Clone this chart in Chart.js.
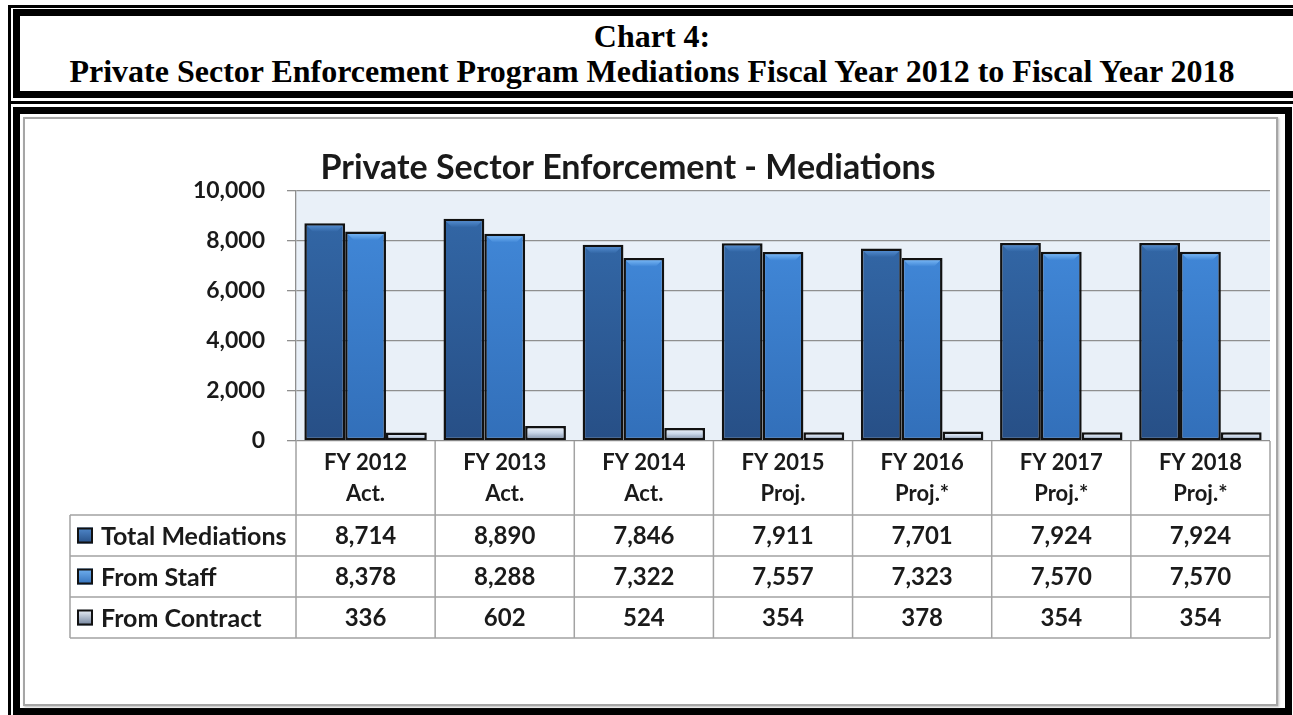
<!DOCTYPE html>
<html>
<head>
<meta charset="utf-8">
<script src="https://cdn.jsdelivr.net/npm/chart.js@4/dist/chart.umd.min.js"></script>
<style>
  body { margin: 0; width: 1293px; height: 715px; overflow: hidden; background: #fff; position: relative; }
  .outer { position: absolute; border: 3px solid #000; }
  .inner { position: absolute; border: 7px solid #000; }
  #head { left: 8px; top: 5px; width: 1290px; height: 93px; }
  #headIn { left: 13px; top: 9px; width: 1285px; height: 75px; }
  #body { left: 8px; top: 101px; width: 1290px; height: 620px; }
  #bodyIn { left: 13px; top: 107px; width: 1265px; height: 594px; }
  #headText { position: absolute; left: 19px; top: 19px; width: 1266px; text-align: center;
    font: bold 32px/35px "Liberation Serif", "Times New Roman", serif; color: #000; white-space: nowrap; }
  #frame { position: absolute; left: 23px; top: 117px; width: 1251px; height: 585px;
    border: 2px solid #a6a6a6; box-shadow: 1px 1px 2px #bbb; }
  #c { position: absolute; left: 0; top: 0; }
</style>
</head>
<body>
<div class="outer" id="head"></div>
<div class="inner" id="headIn"></div>
<div class="outer" id="body"></div>
<div class="inner" id="bodyIn"></div>
<div id="headText">Chart 4:<br>Private Sector Enforcement Program Mediations Fiscal Year 2012 to Fiscal Year 2018</div>
<div id="frame"></div>
<canvas id="c" width="1293" height="715"></canvas>
<script>
// data
const categories = [
    ["FY 2012", "Act."], ["FY 2013", "Act."], ["FY 2014", "Act."], ["FY 2015", "Proj."],
    ["FY 2016", "Proj.*"], ["FY 2017", "Proj.*"], ["FY 2018", "Proj.*"]
];
const seriesNames = ["Total Mediations", "From Staff", "From Contract"];
const totalMediations = [8714, 8890, 7846, 7911, 7701, 7924, 7924];
const fromStaff = [8378, 8288, 7322, 7557, 7323, 7570, 7570];
const fromContract = [336, 602, 524, 354, 378, 354, 354];
const yTicks = [0, 2000, 4000, 6000, 8000, 10000];

const chartTitle = "Private Sector Enforcement - Mediations";
const FONT = "Lato, 'Open Sans', sans-serif";

// colours: [top, bottom, bevel highlight]
const palette = [
    ["#3266a5", "#274f86", "#5089cc"],
    ["#4086d6", "#326fb9", "#72b2f2"],
    ["#e4ecf7", "#6d7f9a", null]
];

const barFill = (idx) => (c) => {
    const chart = c.chart;
    const p = palette[idx];
    const y = chart.scales && chart.scales.y;
    if (!chart.chartArea || !y || c.raw == null) return p[0];
    const y0 = y.getPixelForValue(c.raw);
    const y1 = y.getPixelForValue(0);
    if (!isFinite(y0) || !isFinite(y1) || y0 === y1) return p[0];
    const g = chart.ctx.createLinearGradient(0, y0, 0, y1);
    if (idx === 2) {
        g.addColorStop(0, "#f4f8fd");
        g.addColorStop(0.45, "#c9d6e8");
        g.addColorStop(1, p[1]);
    } else {
        g.addColorStop(0, p[0]);
        g.addColorStop(1, p[1]);
    }
    return g;
};

const fmt = (v) => v.toLocaleString("en-US");

const plotBg = {
    id: "plotBg",
    beforeDraw(chart) {
        const a = chart.chartArea;
        const ctx = chart.ctx;
        ctx.save();
        ctx.fillStyle = "#e9f0f8";
        ctx.fillRect(a.left, a.top, a.right - a.left, a.bottom - a.top);
        ctx.restore();
    }
};

const titlePlugin = {
    id: "titlePlugin",
    afterDraw(chart) {
        const ctx = chart.ctx;
        ctx.save();
        ctx.font = "bold 34px " + FONT;
        ctx.fillStyle = "#1a1a1a";
        ctx.textAlign = "center";
        ctx.textBaseline = "alphabetic";
        ctx.fillText(chartTitle, 628, 179);
        ctx.restore();
    }
};

// light bevel at the top of the blue bars
const bevel = {
    id: "bevel",
    afterDatasetsDraw(chart) {
        const ctx = chart.ctx;
        ctx.save();
        chart.data.datasets.forEach((ds, i) => {
            const hl = palette[i][2];
            if (!hl) return;
            chart.getDatasetMeta(i).data.forEach((bar) => {
                const {x, y, width, base} = bar.getProps(["x", "y", "width", "base"], true);
                if (base - y < 16) return;
                const l = x - width / 2 + 2.5, r = x + width / 2 - 2.5, t = y + 2.5, h = 6;
                const g = ctx.createLinearGradient(0, t, 0, t + h);
                g.addColorStop(0, hl);
                g.addColorStop(1, palette[i][0]);
                ctx.fillStyle = g;
                ctx.beginPath();
                ctx.moveTo(l, t);
                ctx.lineTo(r, t);
                ctx.lineTo(r - h, t + h);
                ctx.lineTo(l + h, t + h);
                ctx.closePath();
                ctx.fill();
            });
        });
        ctx.restore();
    }
};

// data table under the x axis
const dataTable = {
    id: "dataTable",
    afterDraw(chart) {
        const ctx = chart.ctx;
        const xs = chart.scales.x;
        const n = categories.length;
        const colW = (xs.right - xs.left) / n;
        const top = xs.bottom;
        const rowH = 41;
        const bottom = top + rowH * chart.data.datasets.length;
        const legendLeft = 70;
        ctx.save();
        ctx.strokeStyle = "#a3a3a3";
        ctx.lineWidth = 1.5;
        ctx.beginPath();
        for (let i = 0; i <= n; i++) {
            const bx = i < n ? xs.getPixelForValue(i) - colW / 2 : xs.getPixelForValue(n - 1) + colW / 2;
            ctx.moveTo(bx, chart.chartArea.bottom);
            ctx.lineTo(bx, bottom);
        }
        ctx.moveTo(legendLeft, top);
        ctx.lineTo(legendLeft, bottom);
        for (let r = 0; r <= chart.data.datasets.length; r++) {
            ctx.moveTo(legendLeft, top + r * rowH);
            ctx.lineTo(xs.right, top + r * rowH);
        }
        ctx.stroke();

        chart.data.datasets.forEach((ds, r) => {
            const cy = top + r * rowH + rowH / 2;
            // legend key
            const g = ctx.createLinearGradient(0, cy - 8, 0, cy + 8);
            if (r === 2) {
                g.addColorStop(0, "#eef3fa");
                g.addColorStop(1, palette[r][1]);
            } else {
                g.addColorStop(0, palette[r][2]);
                g.addColorStop(1, palette[r][1]);
            }
            ctx.fillStyle = g;
            ctx.fillRect(77, cy - 8, 16, 16);
            ctx.strokeStyle = "#111";
            ctx.lineWidth = 2;
            ctx.strokeRect(78, cy - 7, 14, 14);

            ctx.fillStyle = "#1a1a1a";
            ctx.font = "bold 25px " + FONT;
            ctx.textBaseline = "middle";
            ctx.textAlign = "left";
            ctx.fillText(ds.label, 101, cy + 1);
            ctx.textAlign = "center";
            ctx.font = "bold 24px " + FONT;
            ds.data.forEach((v, i) => {
                ctx.fillText(fmt(v), xs.getPixelForValue(i), cy + 1);
            });
        });
        ctx.restore();
    }
};

const seriesData = [totalMediations, fromStaff, fromContract];

new Chart(document.getElementById("c"), {
    type: "bar",
    data: {
        labels: categories,
        datasets: seriesNames.map((name, i) => ({
            label: name,
            data: seriesData[i],
            backgroundColor: barFill(i),
            borderColor: "#111",
            borderWidth: 2.5,
            borderSkipped: false,
            barPercentage: 1,
            categoryPercentage: 0.88
        }))
    },
    options: {
        responsive: false,
        animation: false,
        devicePixelRatio: 1,
        layout: { padding: { left: 150, right: 23, top: 191, bottom: 200 } },
        plugins: {
            legend: { display: false },
            title: { display: false },
            tooltip: { enabled: false }
        },
        scales: {
            x: {
                grid: { display: false, drawTicks: false },
                border: { display: false },
                ticks: {
                    color: "#1a1a1a",
                    font: { family: FONT, size: 22, weight: "bold", lineHeight: 1.4 },
                    padding: 7,
                    maxRotation: 0
                },
                afterFit(scale) { scale.height = 74; }
            },
            y: {
                min: 0,
                max: 10000,
                afterBuildTicks(scale) { scale.ticks = yTicks.map((v) => ({ value: v })); },
                grid: { color: "#8f8f8f", lineWidth: 1.3, tickLength: 9 },
                border: { color: "#8f8f8f", width: 1.3 },
                ticks: {
                    color: "#1a1a1a",
                    font: { family: FONT, size: 23, weight: "bold" },
                    padding: 22,
                    callback: (v) => fmt(v)
                },
                afterFit(scale) { scale.width = 146; }
            }
        }
    },
    plugins: [plotBg, bevel, dataTable, titlePlugin]
});
</script>
</body>
</html>
